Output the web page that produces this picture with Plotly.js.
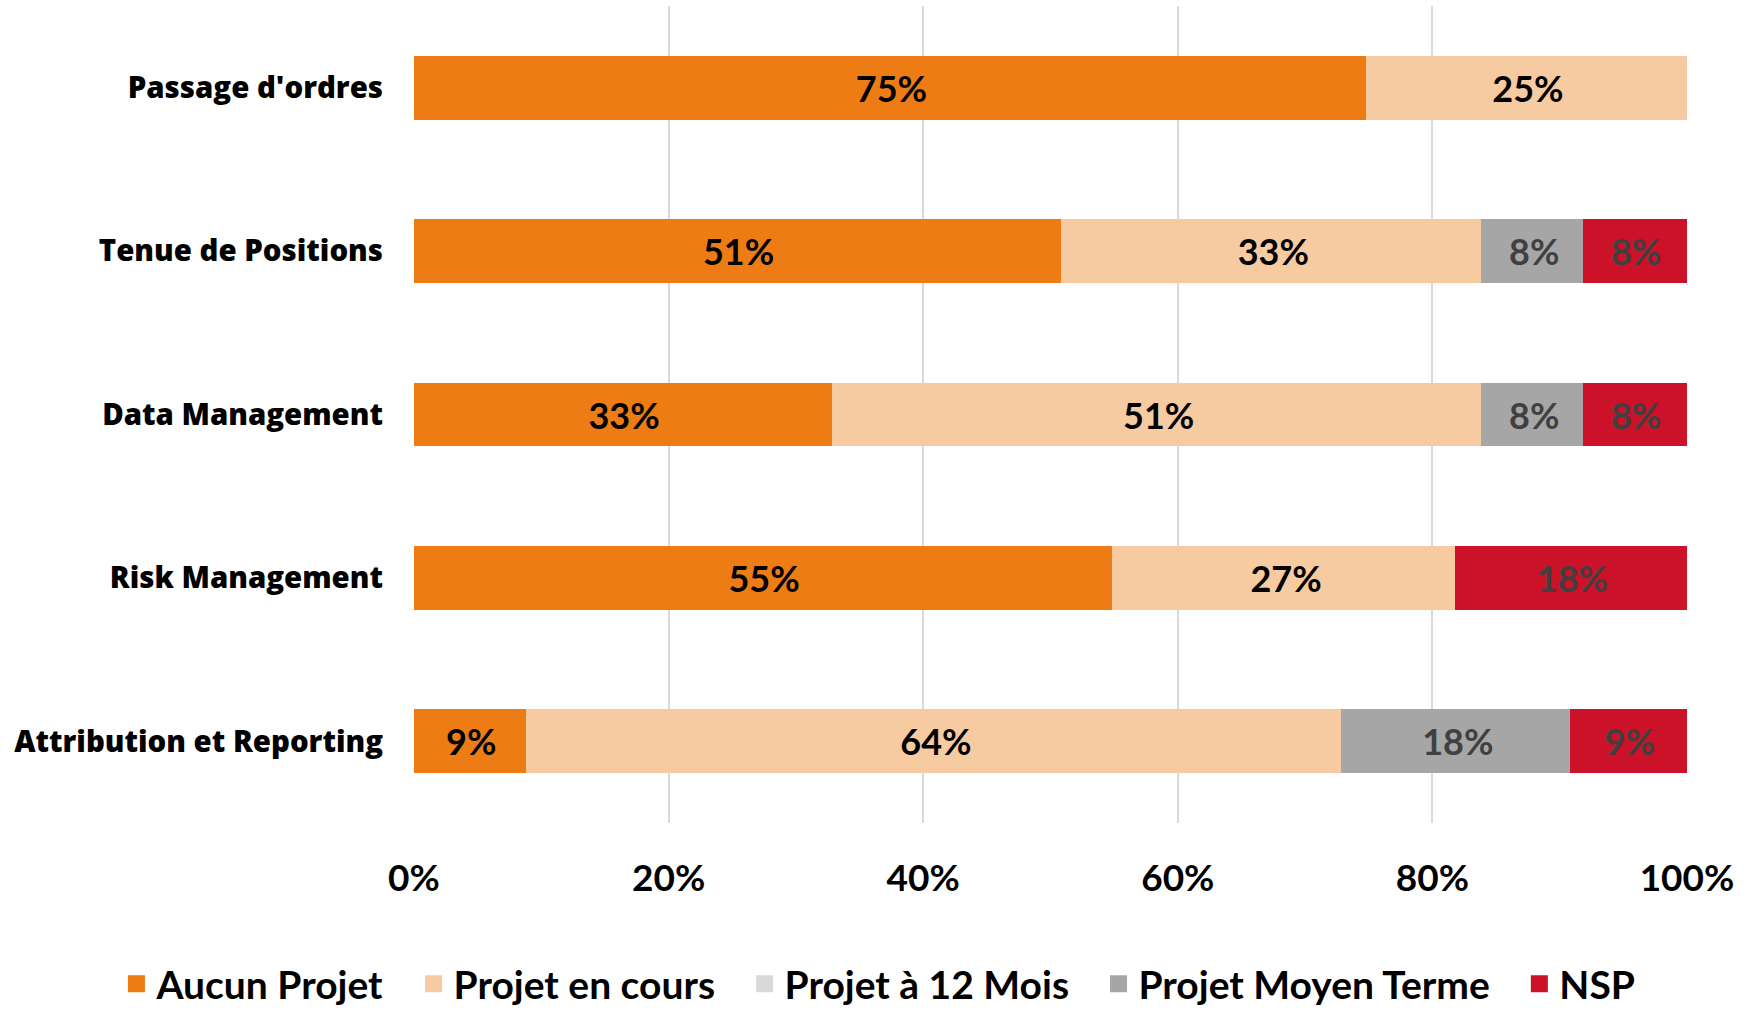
<!DOCTYPE html>
<html>
<head>
<meta charset="utf-8">
<script src="https://cdn.plot.ly/plotly-3.0.1.min.js"></script>
<style>html,body{margin:0;padding:0;background:#fff;}#chart{width:1756px;height:1010px;}</style>
</head>
<body>
<div id="chart"></div>
<script>
const categories = ["Passage d'ordres", "Tenue de Positions", "Data Management", "Risk Management", "Attribution et Reporting"];
const seriesNames = ["Aucun Projet", "Projet en cours", "Projet à 12 Mois", "Projet Moyen Terme", "NSP"];
const aucunProjet = [75, 51, 33, 55, 9];
const projetEnCours = [25, 33, 51, 27, 64];
const projet12Mois = [0, 0, 0, 0, 0];
const projetMoyenTerme = [0, 8, 8, 0, 18];
const nsp = [0, 8, 8, 18, 9];
const xTickVals = [0, 20, 40, 60, 80, 100];
const xTickText = ["0%", "20%", "40%", "60%", "80%", "100%"];

const colors = ["#EC7C13", "#F7CBA1", "#D9D9D9", "#A6A6A6", "#CC1229"];
const labelColors = ["#000000", "#000000", "#404040", "#404040", "#404040"];
const allSeries = [aucunProjet, projetEnCours, projet12Mois, projetMoyenTerme, nsp];

const traces = allSeries.map((vals, i) => ({
  type: 'bar',
  orientation: 'h',
  name: seriesNames[i],
  y: categories,
  x: vals.map(v => v > 0 ? v : null),
  text: vals.map(v => v > 0 ? v + '%' : ''),
  textposition: 'inside',
  insidetextanchor: 'middle',
  textangle: 0,
  constraintext: 'none',
  textfont: {family: 'Lato, sans-serif', size: 36, color: labelColors[i], weight: 700},
  marker: {color: colors[i], line: {width: 5, color: colors[i]}},
  hoverinfo: 'none'
}));

const layout = {
  width: 1756,
  height: 1010,
  barmode: 'stack',
  bargap: 0.64,
  paper_bgcolor: '#ffffff',
  plot_bgcolor: '#ffffff',
  margin: {l: 414, r: 69, t: 6, b: 187, autoexpand: false},
  font: {family: 'Lato, sans-serif', color: '#000000'},
  xaxis: {
    range: [0, 100],
    tickvals: xTickVals,
    ticktext: xTickText,
    showgrid: true,
    gridcolor: '#D9D9D9',
    gridwidth: 2,
    zeroline: false,
    showline: false,
    ticks: '',
    ticklabelstandoff: 30,
    tickfont: {family: 'Lato, sans-serif', size: 37, color: '#000000', weight: 700},
    fixedrange: true
  },
  yaxis: {
    autorange: 'reversed',
    showgrid: false,
    zeroline: false,
    showline: false,
    ticks: '',
    ticklabelstandoff: 30,
    tickfont: {family: '"Open Sans", sans-serif', size: 29.4, color: '#000000', weight: 800},
    fixedrange: true
  },
  legend: {
    orientation: 'h',
    xref: 'paper',
    yref: 'paper',
    x: -0.253,
    xanchor: 'left',
    y: -0.197,
    yanchor: 'middle',
    font: {family: 'Lato, sans-serif', size: 39, color: '#000000', weight: 700},
    traceorder: 'normal',
    itemwidth: 30,
    indentation: 24.5
  },
  showlegend: true
};

Plotly.newPlot('chart', traces, layout, {displayModeBar: false, staticPlot: true});
</script>
</body>
</html>
